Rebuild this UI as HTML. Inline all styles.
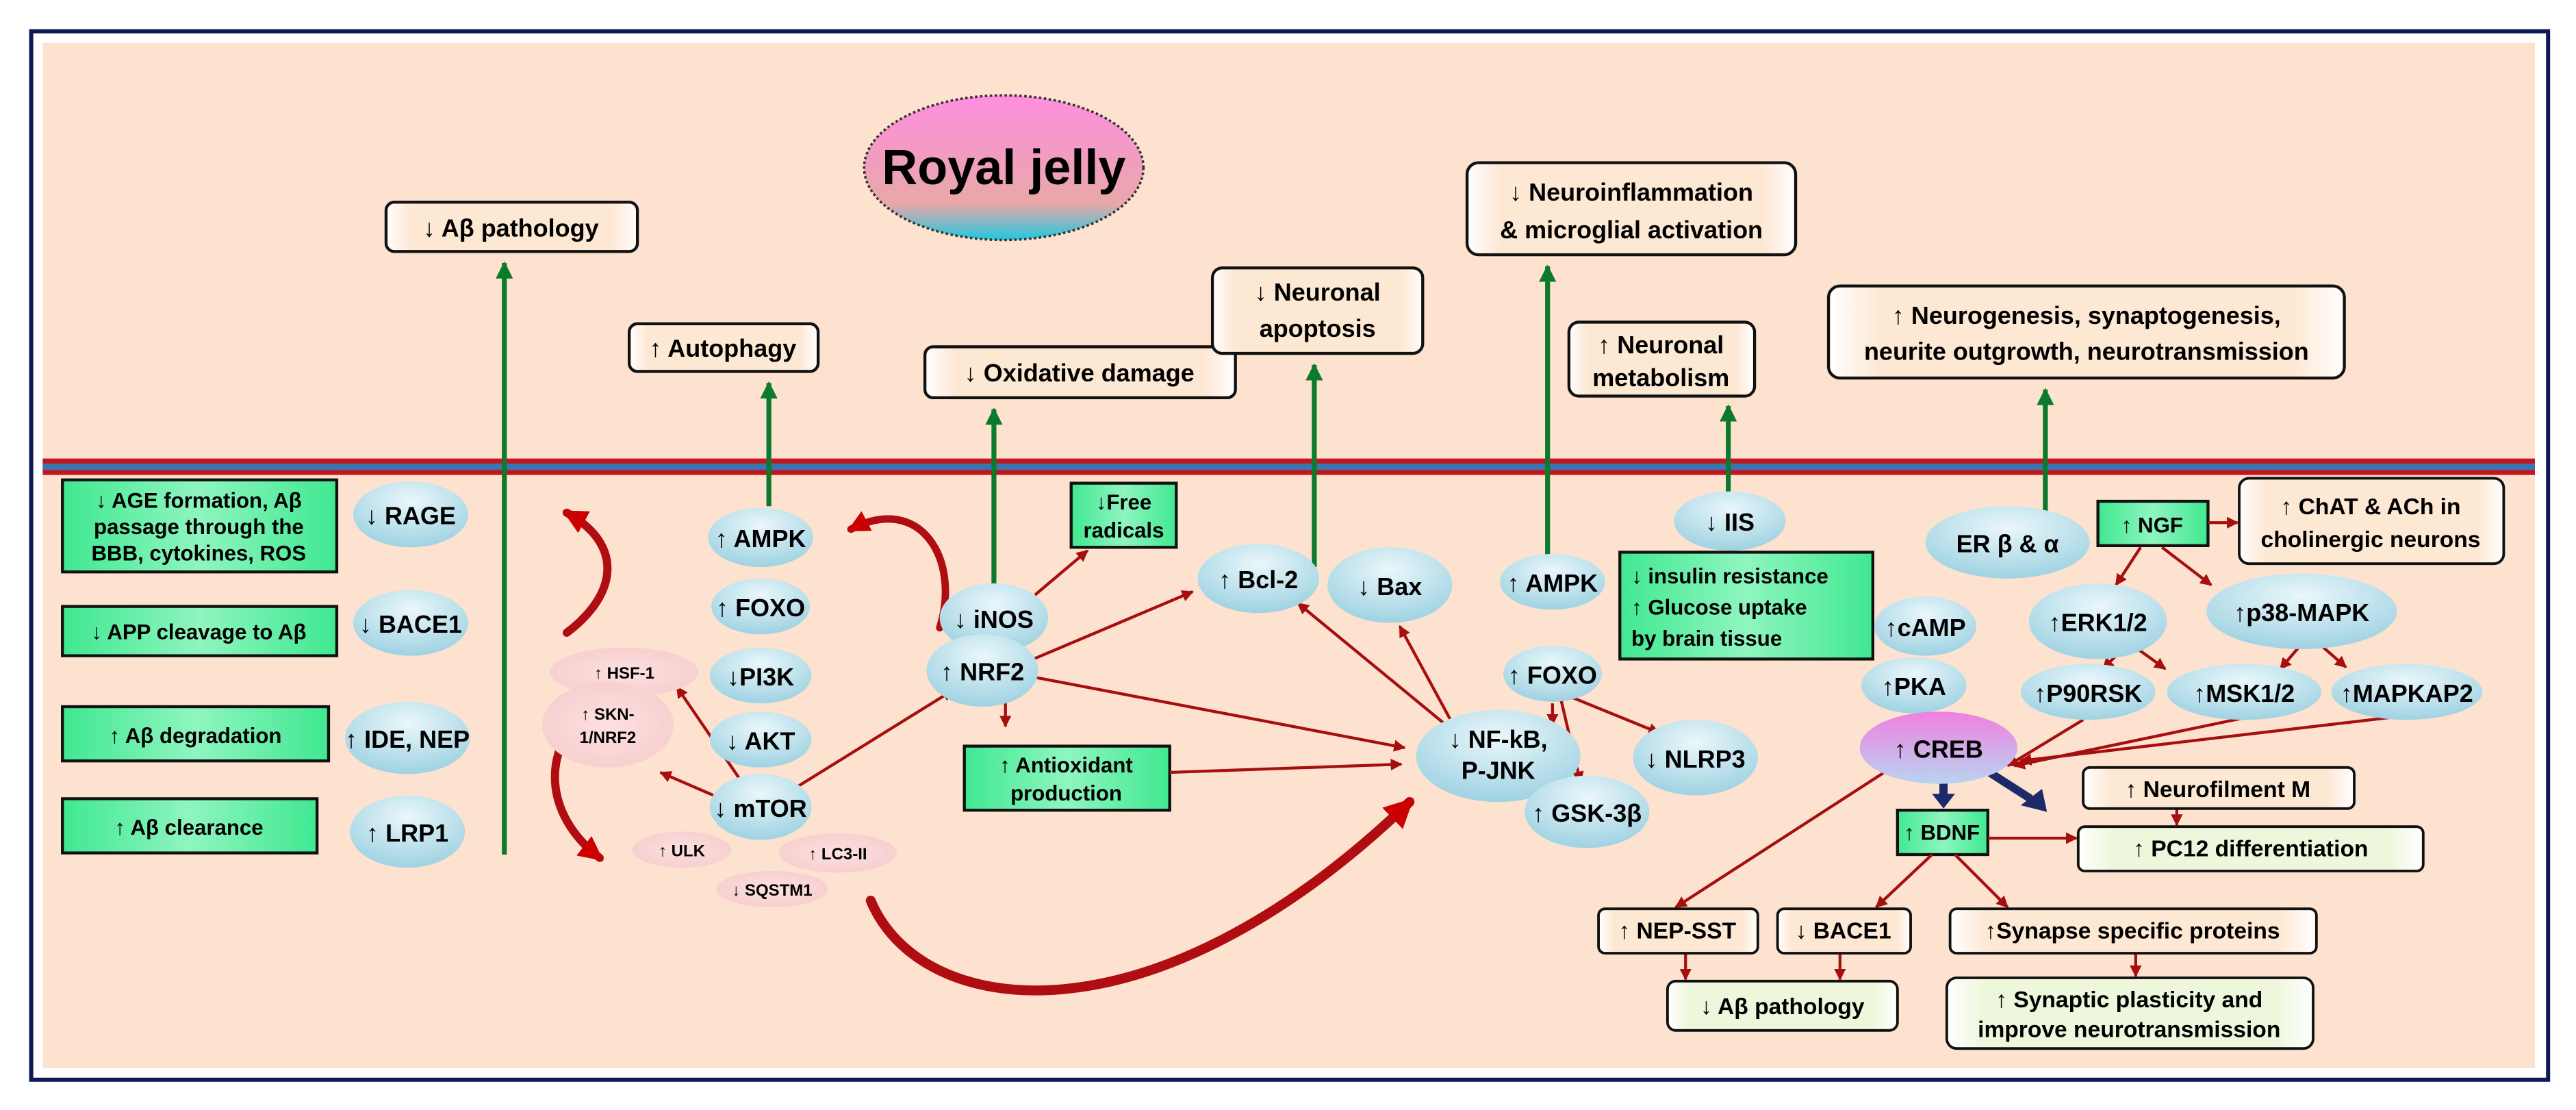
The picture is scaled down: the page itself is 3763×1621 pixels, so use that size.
<!DOCTYPE html>
<html><head><meta charset="utf-8"><style>
html,body{margin:0;padding:0;background:#fff;}
svg{display:block;}
text{font-family:"Liberation Sans Narrow","Liberation Sans",sans-serif;font-weight:bold;fill:#000;}
</style></head><body>
<svg width="3763" height="1621" viewBox="0 0 1568 675.4" xmlns="http://www.w3.org/2000/svg">
<defs>
<radialGradient id="blue" cx="50%" cy="30%" r="70%"><stop offset="0" stop-color="#eaf7fb"/><stop offset="1" stop-color="#9fd2e2"/></radialGradient>
<radialGradient id="pinkE" cx="50%" cy="50%" r="60%"><stop offset="0" stop-color="#fde0e0"/><stop offset="1" stop-color="#f6cccc"/></radialGradient>
<linearGradient id="rj" x1="0" y1="0" x2="0" y2="1"><stop offset="0" stop-color="#ff8ee0"/><stop offset="0.75" stop-color="#e8a8a8"/><stop offset="1" stop-color="#20c8e0"/></linearGradient>
<linearGradient id="creb" x1="0" y1="0" x2="0" y2="1"><stop offset="0" stop-color="#f080e0"/><stop offset="1" stop-color="#b8d4f0"/></linearGradient>
<linearGradient id="grn" x1="0" y1="0" x2="1" y2="0"><stop offset="0" stop-color="#40e890"/><stop offset="0.5" stop-color="#8ff5c0"/><stop offset="1" stop-color="#40e890"/></linearGradient>
<linearGradient id="wbox" x1="0" y1="0" x2="1" y2="0"><stop offset="0" stop-color="#fff"/><stop offset="0.1" stop-color="#fde8d4"/><stop offset="0.9" stop-color="#fde8d4"/><stop offset="1" stop-color="#fff"/></linearGradient>
<linearGradient id="gbox" x1="0" y1="0" x2="1" y2="0"><stop offset="0" stop-color="#fff"/><stop offset="0.1" stop-color="#eef7dc"/><stop offset="0.9" stop-color="#eef7dc"/><stop offset="1" stop-color="#fff"/></linearGradient>
<marker id="ar" viewBox="0 0 10 10" refX="9" refY="5" markerWidth="4" markerHeight="4" orient="auto"><path d="M0,0L10,5L0,10z" fill="#a50f0f"/></marker>
<marker id="arB" viewBox="0 0 10 10" refX="8" refY="5" markerWidth="3" markerHeight="3" orient="auto"><path d="M0,0L10,5L0,10z" fill="#c00"/></marker>
<marker id="ag" viewBox="0 0 10 10" refX="9" refY="5" markerWidth="4.5" markerHeight="3.5" orient="auto"><path d="M0,0L10,5L0,10z" fill="#0b7a2c"/></marker>
</defs>
<rect x="0" y="0" width="1568" height="675.4" fill="#fff"/>
<rect x="19" y="19" width="1532" height="638" fill="#fff" stroke="#0b1a55" stroke-width="2.5"/>
<rect x="26" y="26" width="1517" height="624" fill="#fde3cf"/>
<rect x="26" y="279" width="1517" height="10" fill="#c4141e"/>
<rect x="26" y="282" width="1517" height="4" fill="#3a75b0"/>

<ellipse cx="611" cy="102" rx="85" ry="44" fill="url(#rj)" stroke="#333" stroke-width="1.5" stroke-dasharray="1.5,1.5"/>
<text x="611" y="112" font-size="30" text-anchor="middle">Royal jelly</text>

<g stroke="#111" stroke-width="1.8" fill="url(#wbox)">
<rect x="235" y="123" width="153" height="30" rx="5"/>
<rect x="383" y="197" width="115" height="29" rx="5"/>
<rect x="563" y="211" width="189" height="31" rx="5"/>
<rect x="738" y="163" width="128" height="52" rx="6"/>
<rect x="893" y="99" width="200" height="56" rx="7"/>
<rect x="955" y="196" width="113" height="45" rx="6"/>
<rect x="1113" y="174" width="314" height="56" rx="7"/>
</g>
<g font-size="15">
<text x="311" y="144" text-anchor="middle">↓ Aβ pathology</text>
<text x="440" y="217" text-anchor="middle">↑ Autophagy</text>
<text x="657" y="232" text-anchor="middle">↓ Oxidative damage</text>
<text x="802" y="183" text-anchor="middle">↓ Neuronal</text>
<text x="802" y="205" text-anchor="middle">apoptosis</text>
<text x="993" y="122" text-anchor="middle">↓ Neuroinflammation</text>
<text x="993" y="145" text-anchor="middle">&amp; microglial activation</text>
<text x="1011" y="215" text-anchor="middle">↑ Neuronal</text>
<text x="1011" y="235" text-anchor="middle">metabolism</text>
<text x="1270" y="197" text-anchor="middle">↑ Neurogenesis, synaptogenesis,</text>
<text x="1270" y="219" text-anchor="middle">neurite outgrowth, neurotransmission</text>
</g>

<g stroke="#0b7a2c" stroke-width="3" marker-end="url(#ag)">
<line x1="307" y1="520" x2="307" y2="160"/>
<line x1="468" y1="308" x2="468" y2="233"/>
<line x1="605" y1="358" x2="605" y2="249"/>
<line x1="800" y1="345" x2="800" y2="222"/>
<line x1="942" y1="345" x2="942" y2="162"/>
<line x1="1052" y1="300" x2="1052" y2="247"/>
<line x1="1245" y1="312" x2="1245" y2="237"/>
</g>

<g stroke="#111" stroke-width="1.8" fill="url(#grn)">
<rect x="38" y="292" width="167" height="56"/>
<rect x="38" y="369" width="167" height="30"/>
<rect x="38" y="430" width="162" height="33"/>
<rect x="38" y="486" width="155" height="33"/>
<rect x="652" y="294" width="64" height="39"/>
<rect x="587" y="454" width="125" height="39"/>
<rect x="986" y="336" width="154" height="65"/>
<rect x="1277" y="305" width="67" height="27"/>
<rect x="1155" y="493" width="55" height="27"/>
</g>
<g font-size="13">
<text x="121" y="309" text-anchor="middle">↓ AGE formation, Aβ</text>
<text x="121" y="325" text-anchor="middle">passage through the</text>
<text x="121" y="341" text-anchor="middle">BBB, cytokines, ROS</text>
<text x="121" y="389" text-anchor="middle">↓ APP cleavage to Aβ</text>
<text x="119" y="452" text-anchor="middle">↑ Aβ degradation</text>
<text x="115" y="508" text-anchor="middle">↑ Aβ clearance</text>
<text x="684" y="310" text-anchor="middle">↓Free</text>
<text x="684" y="327" text-anchor="middle">radicals</text>
<text x="649" y="470" text-anchor="middle">↑ Antioxidant</text>
<text x="649" y="487" text-anchor="middle">production</text>
<text x="1310" y="324" text-anchor="middle">↑ NGF</text>
<text x="1182" y="511" text-anchor="middle">↑ BDNF</text>
<text x="993" y="355">↓ insulin resistance</text>
<text x="993" y="374">↑ Glucose uptake</text>
<text x="993" y="393">by brain tissue</text>
</g>

<g fill="none" stroke="#b00d12" stroke-linecap="round">
<path d="M345,385 C378,360 378,330 345,312" stroke-width="5" marker-end="url(#arB)"/>
<path d="M358,432 C330,455 330,495 365,522" stroke-width="5" marker-end="url(#arB)"/>
<path d="M572,382 C585,340 560,300 518,322" stroke-width="4.5" marker-end="url(#arB)"/>
<path d="M530,548 C560,620 700,640 858,488" stroke-width="6" marker-end="url(#arB)"/>
</g>

<g stroke="#a50f0f" stroke-width="1.8" marker-end="url(#ar)">
<line x1="453" y1="478" x2="412" y2="418"/>
<line x1="446" y1="489" x2="402" y2="470"/>
<line x1="480" y1="482" x2="580" y2="420"/>
<line x1="630" y1="362" x2="662" y2="335"/>
<line x1="622" y1="404" x2="726" y2="360"/>
<line x1="624" y1="411" x2="855" y2="455"/>
<line x1="612" y1="424" x2="612" y2="442"/>
<line x1="712" y1="470" x2="853" y2="465"/>
<line x1="880" y1="441" x2="790" y2="367"/>
<line x1="884" y1="440" x2="852" y2="381"/>
<line x1="945" y1="428" x2="945" y2="441"/>
<line x1="956" y1="424" x2="1010" y2="446"/>
<line x1="950" y1="425" x2="962" y2="476"/>
<line x1="1344" y1="318" x2="1362" y2="318"/>
<line x1="1303" y1="333" x2="1288" y2="356"/>
<line x1="1316" y1="333" x2="1346" y2="356"/>
<line x1="1290" y1="397" x2="1280" y2="407"/>
<line x1="1300" y1="394" x2="1318" y2="407"/>
<line x1="1400" y1="393" x2="1388" y2="407"/>
<line x1="1412" y1="392" x2="1428" y2="406"/>
<line x1="1268" y1="438" x2="1222" y2="466"/>
<line x1="1365" y1="437" x2="1226" y2="466"/>
<line x1="1460" y1="436" x2="1230" y2="463"/>
<line x1="1150" y1="468" x2="1020" y2="552"/>
<line x1="1210" y1="510" x2="1264" y2="510"/>
<line x1="1325" y1="492" x2="1325" y2="502"/>
<line x1="1176" y1="520" x2="1142" y2="552"/>
<line x1="1190" y1="520" x2="1222" y2="552"/>
<line x1="1026" y1="580" x2="1026" y2="596"/>
<line x1="1120" y1="580" x2="1120" y2="596"/>
<line x1="1300" y1="580" x2="1300" y2="594"/>
</g>
<g stroke="#1c2a6a" stroke-width="5" fill="none">
<line x1="1183" y1="471" x2="1183" y2="484"/>
<line x1="1211" y1="470" x2="1236" y2="486"/>
</g>
<path d="M1176,483 L1190,483 L1183,492z" fill="#1c2a6a"/>
<path d="M1230,490 L1243,480 L1246,494z" fill="#1c2a6a"/>

<g fill="url(#pinkE)">
<ellipse cx="380" cy="409" rx="45" ry="15"/>
<ellipse cx="370" cy="441" rx="40" ry="26"/>
<ellipse cx="415" cy="517" rx="30" ry="11"/>
<ellipse cx="510" cy="519" rx="36" ry="12"/>
<ellipse cx="470" cy="541" rx="34" ry="11"/>
</g>
<g font-size="10">
<text x="380" y="413" text-anchor="middle">↑ HSF-1</text>
<text x="370" y="438" text-anchor="middle">↑ SKN-</text>
<text x="370" y="452" text-anchor="middle">1/NRF2</text>
<text x="415" y="521" text-anchor="middle">↑ ULK</text>
<text x="510" y="523" text-anchor="middle">↑ LC3-II</text>
<text x="470" y="545" text-anchor="middle">↓ SQSTM1</text>
</g>

<g fill="url(#blue)">
<ellipse cx="250" cy="313" rx="35" ry="20"/>
<ellipse cx="250" cy="379" rx="35" ry="20"/>
<ellipse cx="248" cy="449" rx="38" ry="22"/>
<ellipse cx="248" cy="506" rx="35" ry="22"/>
<ellipse cx="463" cy="327" rx="32" ry="18"/>
<ellipse cx="463" cy="369" rx="30" ry="17"/>
<ellipse cx="463" cy="411" rx="31" ry="17"/>
<ellipse cx="463" cy="450" rx="31" ry="17"/>
<ellipse cx="463" cy="491" rx="31" ry="20"/>
<ellipse cx="605" cy="376" rx="33" ry="21"/>
<ellipse cx="598" cy="408" rx="34" ry="22"/>
<ellipse cx="766" cy="352" rx="37" ry="21"/>
<ellipse cx="846" cy="356" rx="38" ry="23"/>
<ellipse cx="945" cy="354" rx="32" ry="17"/>
<ellipse cx="945" cy="410" rx="30" ry="17"/>
<ellipse cx="912" cy="460" rx="50" ry="28"/>
<ellipse cx="1032" cy="461" rx="38" ry="23"/>
<ellipse cx="966" cy="494" rx="38" ry="22"/>
<ellipse cx="1053" cy="317" rx="34" ry="18"/>
<ellipse cx="1172" cy="381" rx="31" ry="18"/>
<ellipse cx="1165" cy="417" rx="32" ry="17"/>
<ellipse cx="1222" cy="330" rx="50" ry="22"/>
<ellipse cx="1277" cy="378" rx="42" ry="23"/>
<ellipse cx="1401" cy="372" rx="58" ry="23"/>
<ellipse cx="1271" cy="421" rx="41" ry="17"/>
<ellipse cx="1366" cy="421" rx="47" ry="17"/>
<ellipse cx="1465" cy="421" rx="46" ry="17"/>
</g>
<ellipse cx="1180" cy="455" rx="48" ry="22" fill="url(#creb)"/>
<g font-size="15">
<text x="250" y="319" text-anchor="middle">↓ RAGE</text>
<text x="250" y="385" text-anchor="middle">↓ BACE1</text>
<text x="248" y="455" text-anchor="middle">↑ IDE, NEP</text>
<text x="248" y="512" text-anchor="middle">↑ LRP1</text>
<text x="463" y="333" text-anchor="middle">↑ AMPK</text>
<text x="463" y="375" text-anchor="middle">↑ FOXO</text>
<text x="463" y="417" text-anchor="middle">↓PI3K</text>
<text x="463" y="456" text-anchor="middle">↓ AKT</text>
<text x="463" y="497" text-anchor="middle">↓ mTOR</text>
<text x="605" y="382" text-anchor="middle">↓ iNOS</text>
<text x="598" y="414" text-anchor="middle">↑ NRF2</text>
<text x="766" y="358" text-anchor="middle">↑ Bcl-2</text>
<text x="846" y="362" text-anchor="middle">↓ Bax</text>
<text x="945" y="360" text-anchor="middle">↑ AMPK</text>
<text x="945" y="416" text-anchor="middle">↑ FOXO</text>
<text x="912" y="455" text-anchor="middle">↓ NF-kB,</text>
<text x="912" y="474" text-anchor="middle">P-JNK</text>
<text x="1032" y="467" text-anchor="middle">↓ NLRP3</text>
<text x="966" y="500" text-anchor="middle">↑ GSK-3β</text>
<text x="1053" y="323" text-anchor="middle">↓ IIS</text>
<text x="1172" y="387" text-anchor="middle">↑cAMP</text>
<text x="1165" y="423" text-anchor="middle">↑PKA</text>
<text x="1222" y="336" text-anchor="middle">ER β &amp; α</text>
<text x="1277" y="384" text-anchor="middle">↑ERK1/2</text>
<text x="1401" y="378" text-anchor="middle">↑p38-MAPK</text>
<text x="1271" y="427" text-anchor="middle">↑P90RSK</text>
<text x="1366" y="427" text-anchor="middle">↑MSK1/2</text>
<text x="1465" y="427" text-anchor="middle">↑MAPKAP2</text>
<text x="1180" y="461" text-anchor="middle">↑ CREB</text>
</g>

<g stroke="#111" stroke-width="1.6">
<rect x="1363" y="291" width="161" height="52" rx="6" fill="url(#wbox)"/>
<rect x="1268" y="467" width="165" height="25" rx="4" fill="url(#wbox)"/>
<rect x="1265" y="503" width="210" height="27" rx="4" fill="url(#gbox)"/>
<rect x="973" y="553" width="97" height="27" rx="4" fill="url(#wbox)"/>
<rect x="1082" y="553" width="81" height="27" rx="4" fill="url(#wbox)"/>
<rect x="1187" y="553" width="223" height="27" rx="4" fill="url(#wbox)"/>
<rect x="1015" y="597" width="140" height="30" rx="5" fill="url(#gbox)"/>
<rect x="1185" y="595" width="223" height="43" rx="6" fill="url(#gbox)"/>
</g>
<g font-size="14">
<text x="1443" y="313" text-anchor="middle">↑ ChAT &amp; ACh in</text>
<text x="1443" y="333" text-anchor="middle">cholinergic neurons</text>
<text x="1350" y="485" text-anchor="middle">↑ Neurofilment M</text>
<text x="1370" y="521" text-anchor="middle">↑ PC12 differentiation</text>
<text x="1021" y="571" text-anchor="middle">↑ NEP-SST</text>
<text x="1122" y="571" text-anchor="middle">↓ BACE1</text>
<text x="1298" y="571" text-anchor="middle">↑Synapse specific proteins</text>
<text x="1085" y="617" text-anchor="middle">↓ Aβ pathology</text>
<text x="1296" y="613" text-anchor="middle">↑ Synaptic plasticity and</text>
<text x="1296" y="631" text-anchor="middle">improve neurotransmission</text>
</g>
</svg>
</body></html>
